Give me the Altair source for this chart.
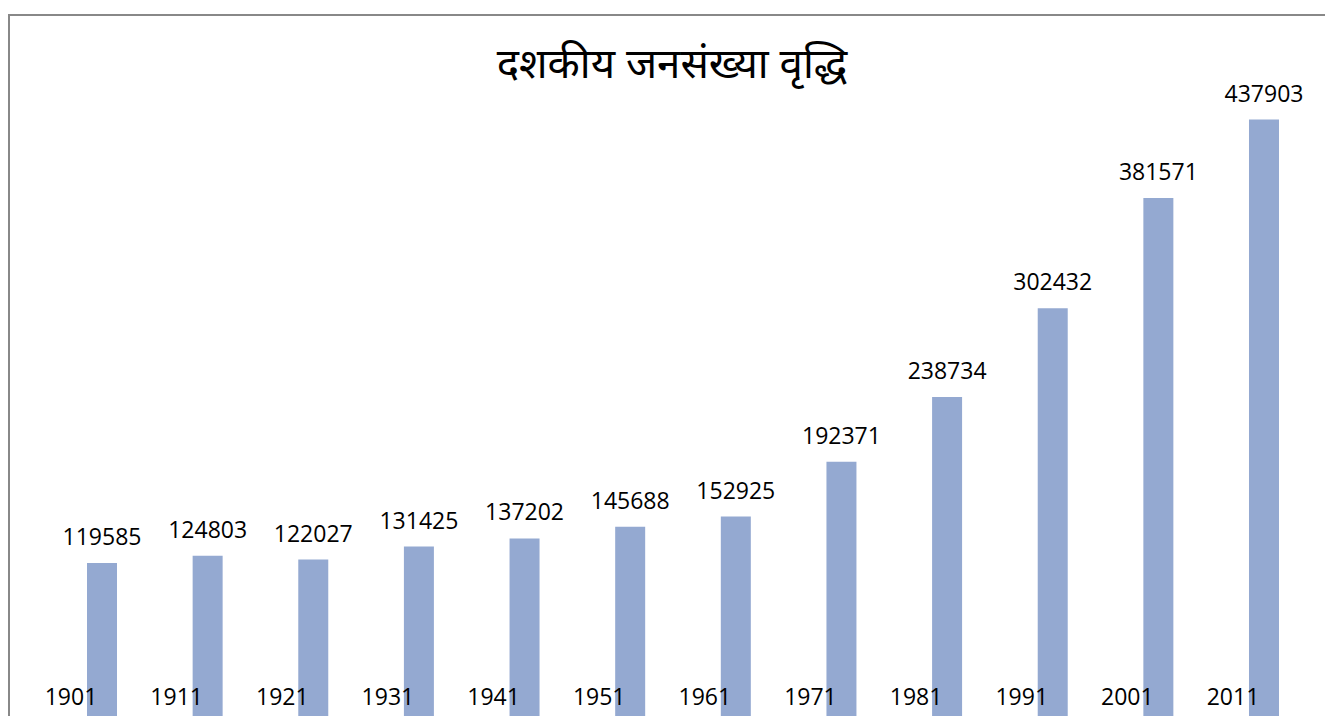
import altair as alt
import pandas as pd

years = [1901, 1911, 1921, 1931, 1941, 1951, 1961, 1971, 1981, 1991, 2001, 2011]
population = [119585, 124803, 122027, 131425, 137202, 145688, 152925,
              192371, 238734, 302432, 381571, 437903]
title_text = "दशकीय जनसंख्या वृद्धि"

df = pd.DataFrame({"year": years, "pop": population})
one = pd.DataFrame({"t": [title_text]})

W, H = 1316, 701
BAR = "#94A9D1"
FONT = "Open Sans"

xs = alt.Scale(domain=[1892.196, 2016.775], nice=False, zero=False, padding=0)
ys = alt.Scale(domain=[9763, 513000], nice=False, zero=False, padding=0)

base = alt.Chart(df)

bars = base.mark_bar(color=BAR, size=30).encode(
    x=alt.X("year:Q", scale=xs, axis=None),
    y=alt.Y("pop:Q", scale=ys, axis=None),
    y2=alt.datum(0),
)

vals = base.mark_text(baseline="alphabetic", dy=-18, fontSize=23, font=FONT, color="black").encode(
    x=alt.X("year:Q", scale=xs, axis=None),
    y=alt.Y("pop:Q", scale=ys, axis=None),
    text=alt.Text("pop:Q", format="d"),
)

yrs = base.mark_text(baseline="middle", dx=-31, fontSize=23, font=FONT, color="black").encode(
    x=alt.X("year:Q", scale=xs, axis=None),
    y=alt.value(683),
    text=alt.Text("year:Q", format="d"),
)

title = alt.Chart(one).mark_text(baseline="middle", align="center", fontSize=42,
                                 font="Noto Sans", color="black").encode(
    x=alt.value(663), y=alt.value(50), text="t:N"
)

left = alt.Chart(one).mark_rule(color="#888888", strokeWidth=2).encode(
    x=alt.value(0), y=alt.value(-1), y2=alt.value(H)
)
top = alt.Chart(one).mark_rule(color="#888888", strokeWidth=2).encode(
    x=alt.value(-1), x2=alt.value(W), y=alt.value(0)
)

chart = alt.layer(bars, vals, yrs, title, left, top).properties(
    width=W, height=H,
    autosize=alt.AutoSizeParams(type="none"),
    padding={"left": 1, "top": 7, "right": 0, "bottom": 0},
    background="white",
).configure_view(stroke=None)

chart.save("out.html", embed_options={"renderer": "svg", "actions": False})
